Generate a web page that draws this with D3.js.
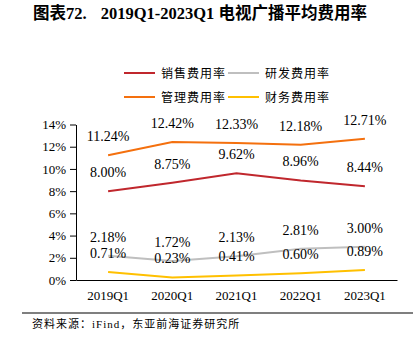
<!DOCTYPE html>
<html><head><meta charset="utf-8">
<script src="https://cdn.jsdelivr.net/npm/d3@7"></script>
<style>body{margin:0;background:#fff}svg{display:block}text{white-space:pre}</style>
</head><body>
<script>
const categories = ["2019Q1","2020Q1","2021Q1","2022Q1","2023Q1"];
const sales = [8.00, 8.75, 9.62, 8.96, 8.44];
const rd = [2.18, 1.72, 2.13, 2.81, 3.00];
const admin = [11.24, 12.42, 12.33, 12.18, 12.71];
const finance = [0.71, 0.23, 0.41, 0.60, 0.89];
const yTicks = [0, 2, 4, 6, 8, 10, 12, 14];
const seriesNames = ["销售费用率","研发费用率","管理费用率","财务费用率"];

const W = 420, H = 337;
const svg = d3.select("body").append("svg").attr("width", W).attr("height", H);
const serif = "'Liberation Serif','Times New Roman',serif";
const cjk = "'Noto Sans CJK SC',sans-serif";

const title = svg.append("text").attr("x", 33).attr("y", 19)
  .attr("font-family", serif + ",'Noto Sans CJK SC'").attr("font-weight", "bold").attr("font-size", 16.5)
  .attr("fill", "#000");
title.append("tspan").text("图表72.");
title.append("tspan").attr("dx", 14).text("2019Q1-2023Q1 电视广播平均费用率");

const x = d3.scaleBand().domain(categories).range([76, 397]);
const y = d3.scaleLinear().domain([0, 14]).range([280, 124.5]);

const series = [
  {name: seriesNames[0], values: sales, color: "#C0272D"},
  {name: seriesNames[1], values: rd, color: "#BFBFBF"},
  {name: seriesNames[2], values: admin, color: "#F4700E"},
  {name: seriesNames[3], values: finance, color: "#FFC000"}
];

// axes
const yAxis = svg.append("g").attr("transform", "translate(76,0)")
  .call(d3.axisLeft(y).tickValues(yTicks).tickFormat(d => d + "%").tickSize(6).tickSizeOuter(0));
yAxis.selectAll("text").attr("font-family", serif).attr("font-size", 13).attr("fill", "#000").attr("dx", "-1");
yAxis.selectAll("line,path").attr("stroke", "#000");

const xAxis = svg.append("g").attr("transform", "translate(0,280)")
  .call(d3.axisBottom(x).tickSize(0).tickSizeOuter(0).tickPadding(11));
xAxis.selectAll("text").attr("font-family", serif).attr("font-size", 13).attr("fill", "#000");
xAxis.select("path").attr("stroke", "#000");

const cx = d => x(d) + x.bandwidth() / 2;
const line = d3.line().x((d, i) => cx(categories[i])).y(d => y(d));

series.forEach(s => {
  svg.append("path").datum(s.values).attr("d", line)
    .attr("fill", "none").attr("stroke", s.color).attr("stroke-width", 2);
});
series.forEach(s => {
  svg.append("g").selectAll("text").data(s.values).join("text")
    .attr("x", (d, i) => cx(categories[i]))
    .attr("y", d => y(d) - 14)
    .attr("text-anchor", "middle")
    .attr("font-family", serif).attr("font-size", 14).attr("fill", "#000")
    .text(d => d.toFixed(2) + "%");
});

// legend
const legPos = [[124, 73], [228, 73], [124, 97], [228, 97]];
series.forEach((s, i) => {
  const [lx, ly] = legPos[i];
  svg.append("line").attr("x1", lx).attr("x2", lx + 31).attr("y1", ly).attr("y2", ly)
    .attr("stroke", s.color).attr("stroke-width", 2);
  svg.append("text").attr("x", lx + 37).attr("y", ly + 4.5)
    .attr("font-family", cjk).attr("font-size", 12).attr("letter-spacing", 1).attr("fill", "#000")
    .text(s.name);
});

// footer
svg.append("line").attr("x1", 22).attr("x2", 413).attr("y1", 313).attr("y2", 313)
  .attr("stroke", "#000").attr("stroke-width", 1.2);
svg.append("text").attr("x", 32).attr("y", 328)
  .attr("font-family", serif + ",'Noto Sans CJK SC'").attr("font-size", 11).attr("letter-spacing", 1).attr("fill", "#000")
  .text("资料来源：iFind，东亚前海证券研究所");
</script>
</body></html>
